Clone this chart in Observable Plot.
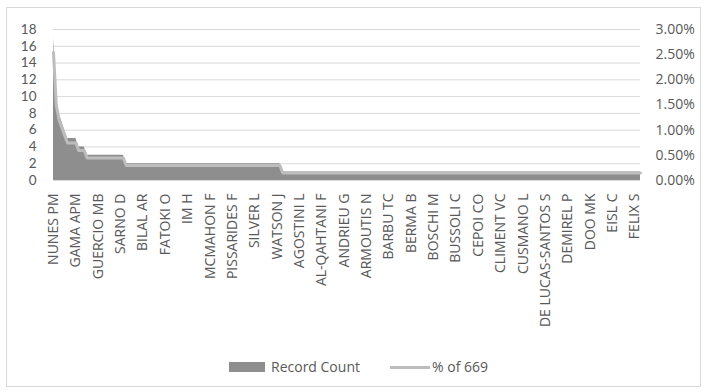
<!DOCTYPE html>
<html>
<head>
<meta charset="utf-8">
<script src="https://cdn.jsdelivr.net/npm/d3@7"></script>
<script src="https://cdn.jsdelivr.net/npm/@observablehq/plot@0.6"></script>
<style>
  body { margin: 0; background: #fff; font-family: "Open Sans", sans-serif; }
  #chart { position: relative; width: 707px; height: 392px; overflow: hidden; }
  #frame { position: absolute; left: 6px; top: 7px; width: 695px; height: 380px; border: 1px solid #d9d9d9; box-sizing: border-box; }
  .layer { position: absolute; left: 0; top: 0; }
  .leg { position: absolute; font-size: 14px; line-height: 19px; color: #595959; white-space: nowrap; }
  .sw { position: absolute; }
</style>
</head>
<body>
<div id="chart">
  <div id="frame"></div>
  <div id="legend">
    <div class="sw" style="left:229px;top:362px;width:36px;height:10px;background:#8e8e8e"></div>
    <div class="leg" style="left:271px;top:357px">Record Count</div>
    <div class="sw" style="left:390px;top:366px;width:40px;height:3px;background:#bdbdbd"></div>
    <div class="leg" style="left:432px;top:357px">% of 669</div>
  </div>
</div>
<script>
// Records per author, authors ordered by count, ties alphabetical
const recordCounts = [
  17, 10, 8, 7, 6, 5, 5, 5, 5, 4, 4, 4,
  3, 3, 3, 3, 3, 3, 3, 3, 3, 3, 3, 3, 3, 3,
  2, 2, 2, 2, 2, 2, 2, 2, 2, 2, 2, 2, 2, 2, 2, 2, 2, 2, 2, 2,
  2, 2, 2, 2, 2, 2, 2, 2, 2, 2, 2, 2, 2, 2, 2, 2, 2, 2, 2, 2,
  2, 2, 2, 2, 2, 2, 2, 2, 2, 2, 2, 2, 2, 2, 2, 2,
  1, 1, 1, 1, 1, 1, 1, 1, 1, 1, 1, 1, 1, 1, 1, 1, 1, 1, 1, 1,
  1, 1, 1, 1, 1, 1, 1, 1, 1, 1, 1, 1, 1, 1, 1, 1, 1, 1, 1, 1,
  1, 1, 1, 1, 1, 1, 1, 1, 1, 1, 1, 1, 1, 1, 1, 1, 1, 1, 1, 1,
  1, 1, 1, 1, 1, 1, 1, 1, 1, 1, 1, 1, 1, 1, 1, 1, 1, 1, 1, 1,
  1, 1, 1, 1, 1, 1, 1, 1, 1, 1, 1, 1, 1, 1, 1, 1, 1, 1, 1, 1,
  1, 1, 1, 1, 1, 1, 1, 1, 1, 1, 1, 1, 1, 1, 1, 1, 1, 1, 1, 1,
  1, 1, 1, 1, 1, 1, 1, 1, 1
];
const totalRecords = 669;

// Author names shown on the category axis, one every 8 authors
const labelStep = 8;
const labelNames = [
  "NUNES PM", "GAMA APM", "GUERCIO MB", "SARNO D", "BILAL AR", "FATOKI O", "IM H",
  "MCMAHON F", "PISSARIDES F", "SILVER L", "WATSON J", "AGOSTINI L", "AL-QAHTANI F",
  "ANDRIEU G", "ARMOUTIS N", "BARBU TC", "BERMA B", "BOSCHI M", "BUSSOLI C", "CEPOI CO",
  "CLIMENT VC", "CUSMANO L", "DE LUCAS-SANTOS S", "DEMIREL P", "DOO MK", "EISL C", "FELIX S"
];

const countTicks = [0, 2, 4, 6, 8, 10, 12, 14, 16, 18];
const pctTicks = [0, 0.005, 0.01, 0.015, 0.02, 0.025, 0.03];

const rows = recordCounts.map((count, i) => ({ i, count, pct: count / totalRecords }));
const labelIndex = labelNames.map((_, j) => j * labelStep);
const nameAt = new Map(labelNames.map((n, j) => [j * labelStep, n]));

const W = 707, H = 345;
const frame = {
  width: W, height: H,
  marginTop: 29, marginBottom: H - 180, marginLeft: 53, marginRight: 67
};
const textStyle = { fontFamily: '"Open Sans", sans-serif', fontSize: "14px", color: "#595959", background: "transparent", overflow: "visible" };

// Record count: area on the left axis, with the category labels
const countPlot = Plot.plot({
  ...frame,
  style: textStyle,
  x: { type: "linear", domain: [0, recordCounts.length - 1], axis: null },
  y: { domain: [0, 18], axis: null },
  marks: [
    Plot.gridY(countTicks, { stroke: "#d9d9d9", strokeOpacity: 1, strokeWidth: 1 }),
    Plot.areaY(rows, { x: "i", y: "count", fill: "#8e8e8e" }),
    Plot.axisY(countTicks, {
      anchor: "left", tickSize: 0, tickPadding: 17, label: null, fill: "#595959",
      fontFamily: "Lato, sans-serif", fontSize: 13.5
    }),
    Plot.axisX(labelIndex, {
      anchor: "bottom", tickSize: 0, tickPadding: 13, tickRotate: -90,
      tickFormat: (d) => nameAt.get(d), label: null, fill: "#595959"
    })
  ]
});

// Share of all records: line on the right axis
const pctPlot = Plot.plot({
  ...frame,
  style: textStyle,
  x: { type: "linear", domain: [0, recordCounts.length - 1], axis: null },
  y: { domain: [0, 0.03], axis: null },
  marks: [
    Plot.lineY(rows, { x: "i", y: "pct", stroke: "#bdbdbd", strokeWidth: 3 }),
    Plot.axisY(pctTicks, {
      anchor: "right", tickSize: 0, tickPadding: 15, label: null,
      tickFormat: d3.format(".2%"), fill: "#595959", textAnchor: "start"
    })
  ]
});

countPlot.classList.add("layer");
pctPlot.classList.add("layer");
const chart = document.getElementById("chart");
chart.appendChild(countPlot);
chart.appendChild(pctPlot);
</script>
</body>
</html>
